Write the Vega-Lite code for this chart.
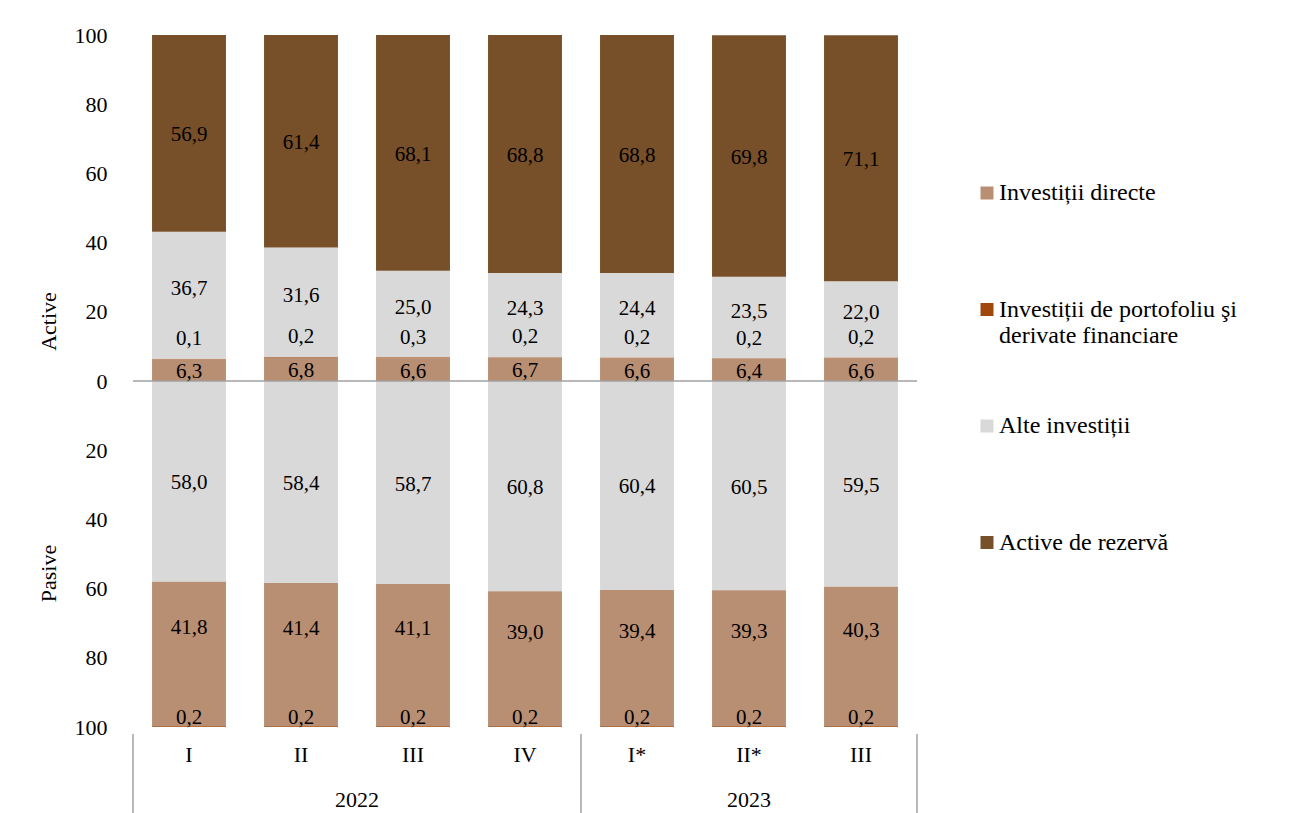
{
  "$schema": "https://vega.github.io/schema/vega-lite/v6.json",
  "autosize": {"type": "none"},
  "width": 784,
  "height": 692,
  "padding": {"left": 133, "top": 35, "right": 379, "bottom": 86},
  "background": "white",
  "config": {
    "view": {"stroke": null},
    "font": "Liberation Serif",
    "text": {"font": "Liberation Serif"},
    "axis": {"labelFont": "Liberation Serif", "titleFont": "Liberation Serif", "labelColor": "#000", "titleColor": "#000"},
    "legend": {"labelFont": "Liberation Serif", "labelColor": "#000"}
  },
  "datasets": {
    "bars": [
      {"q": "2022 I", "s": "Investiții directe", "v": 6.3, "o": 1},
      {"q": "2022 I", "s": "Investiții de portofoliu şi derivate financiare", "v": 0.1, "o": 2},
      {"q": "2022 I", "s": "Alte investiții", "v": 36.7, "o": 3},
      {"q": "2022 I", "s": "Active de rezervă", "v": 56.9, "o": 4},
      {"q": "2022 I", "s": "Alte investiții", "v": -58.0, "o": 1},
      {"q": "2022 I", "s": "Investiții directe", "v": -41.8, "o": 2},
      {"q": "2022 I", "s": "Investiții de portofoliu şi derivate financiare", "v": -0.2, "o": 3},

      {"q": "2022 II", "s": "Investiții directe", "v": 6.8, "o": 1},
      {"q": "2022 II", "s": "Investiții de portofoliu şi derivate financiare", "v": 0.2, "o": 2},
      {"q": "2022 II", "s": "Alte investiții", "v": 31.6, "o": 3},
      {"q": "2022 II", "s": "Active de rezervă", "v": 61.4, "o": 4},
      {"q": "2022 II", "s": "Alte investiții", "v": -58.4, "o": 1},
      {"q": "2022 II", "s": "Investiții directe", "v": -41.4, "o": 2},
      {"q": "2022 II", "s": "Investiții de portofoliu şi derivate financiare", "v": -0.2, "o": 3},

      {"q": "2022 III", "s": "Investiții directe", "v": 6.6, "o": 1},
      {"q": "2022 III", "s": "Investiții de portofoliu şi derivate financiare", "v": 0.3, "o": 2},
      {"q": "2022 III", "s": "Alte investiții", "v": 25.0, "o": 3},
      {"q": "2022 III", "s": "Active de rezervă", "v": 68.1, "o": 4},
      {"q": "2022 III", "s": "Alte investiții", "v": -58.7, "o": 1},
      {"q": "2022 III", "s": "Investiții directe", "v": -41.1, "o": 2},
      {"q": "2022 III", "s": "Investiții de portofoliu şi derivate financiare", "v": -0.2, "o": 3},

      {"q": "2022 IV", "s": "Investiții directe", "v": 6.7, "o": 1},
      {"q": "2022 IV", "s": "Investiții de portofoliu şi derivate financiare", "v": 0.2, "o": 2},
      {"q": "2022 IV", "s": "Alte investiții", "v": 24.3, "o": 3},
      {"q": "2022 IV", "s": "Active de rezervă", "v": 68.8, "o": 4},
      {"q": "2022 IV", "s": "Alte investiții", "v": -60.8, "o": 1},
      {"q": "2022 IV", "s": "Investiții directe", "v": -39.0, "o": 2},
      {"q": "2022 IV", "s": "Investiții de portofoliu şi derivate financiare", "v": -0.2, "o": 3},

      {"q": "2023 I*", "s": "Investiții directe", "v": 6.6, "o": 1},
      {"q": "2023 I*", "s": "Investiții de portofoliu şi derivate financiare", "v": 0.2, "o": 2},
      {"q": "2023 I*", "s": "Alte investiții", "v": 24.4, "o": 3},
      {"q": "2023 I*", "s": "Active de rezervă", "v": 68.8, "o": 4},
      {"q": "2023 I*", "s": "Alte investiții", "v": -60.4, "o": 1},
      {"q": "2023 I*", "s": "Investiții directe", "v": -39.4, "o": 2},
      {"q": "2023 I*", "s": "Investiții de portofoliu şi derivate financiare", "v": -0.2, "o": 3},

      {"q": "2023 II*", "s": "Investiții directe", "v": 6.4, "o": 1},
      {"q": "2023 II*", "s": "Investiții de portofoliu şi derivate financiare", "v": 0.2, "o": 2},
      {"q": "2023 II*", "s": "Alte investiții", "v": 23.5, "o": 3},
      {"q": "2023 II*", "s": "Active de rezervă", "v": 69.8, "o": 4},
      {"q": "2023 II*", "s": "Alte investiții", "v": -60.5, "o": 1},
      {"q": "2023 II*", "s": "Investiții directe", "v": -39.3, "o": 2},
      {"q": "2023 II*", "s": "Investiții de portofoliu şi derivate financiare", "v": -0.2, "o": 3},

      {"q": "2023 III", "s": "Investiții directe", "v": 6.6, "o": 1},
      {"q": "2023 III", "s": "Investiții de portofoliu şi derivate financiare", "v": 0.2, "o": 2},
      {"q": "2023 III", "s": "Alte investiții", "v": 22.0, "o": 3},
      {"q": "2023 III", "s": "Active de rezervă", "v": 71.1, "o": 4},
      {"q": "2023 III", "s": "Alte investiții", "v": -59.5, "o": 1},
      {"q": "2023 III", "s": "Investiții directe", "v": -40.3, "o": 2},
      {"q": "2023 III", "s": "Investiții de portofoliu şi derivate financiare", "v": -0.2, "o": 3}
    ],
    "years": [
      {"q": "2022 II", "year": "2022"},
      {"q": "2023 II*", "year": "2023"}
    ],
    "seps": [
      {"q": "2022 I", "edge": "start"},
      {"q": "2023 I*", "edge": "start"},
      {"q": "2023 III", "edge": "end"}
    ]
  },
  "layer": [
    {
      "data": {"name": "bars"},
      "mark": {"type": "bar", "width": {"band": 0.66}},
      "encoding": {
        "x": {
          "field": "q", "type": "nominal",
          "scale": {"domain": ["2022 I", "2022 II", "2022 III", "2022 IV", "2023 I*", "2023 II*", "2023 III"], "paddingInner": 0, "paddingOuter": 0},
          "axis": {"title": null, "labelExpr": "split(datum.label, ' ')[1]", "domain": false, "ticks": false, "tickSize": 0, "labelPadding": 17, "labelFontSize": 22, "labelAngle": 0}
        },
        "y": {
          "field": "v", "type": "quantitative", "stack": "zero",
          "scale": {"domain": [-100, 100], "nice": false, "zero": false},
          "axis": {
            "title": "Active", "values": [-100, -80, -60, -40, -20, 0, 20, 40, 60, 80, 100],
            "labelExpr": "'' + abs(datum.value)", "domain": false, "ticks": false, "tickSize": 0, "grid": false,
            "labelPadding": 26, "labelFontSize": 22,
            "titleX": -85, "titleY": 286, "titleAngle": -90, "titleBaseline": "middle", "titleAlign": "center",
            "titleFontWeight": "normal", "titleFontSize": 22
          }
        },
        "color": {
          "field": "s", "type": "nominal",
          "scale": {
            "domain": ["Investiții directe", "Investiții de portofoliu şi derivate financiare", "Alte investiții", "Active de rezervă"],
            "range": ["#B98F73", "#9E480E", "#D9D9D9", "#774F28"]
          },
          "legend": {
            "title": null, "orient": "none", "legendX": 842, "legendY": 146, "padding": 0,
            "symbolType": "square", "symbolSize": 169, "symbolStrokeWidth": 0,
            "labelFontSize": 24, "labelOffset": 0, "rowPadding": 66.5, "labelLimit": 400,
            "labelExpr": "datum.label == 'Investiții de portofoliu şi derivate financiare' ? ['Investiții de portofoliu şi', 'derivate financiare'] : [datum.label, '']"
          }
        },
        "order": {"field": "o", "type": "quantitative"}
      }
    },
    {
      "data": {"values": [{}]},
      "mark": {"type": "rule", "color": "#A0A0A0", "strokeWidth": 1.5},
      "encoding": {"y": {"datum": 0, "axis": null}}
    },
    {
      "data": {"name": "bars"},
      "mark": {
        "type": "text", "fontSize": 21, "color": "#000", "baseline": "middle",
        "dy": {"expr": "datum.v > 0 ? (datum.o === 2 ? -20 : (datum.o === 3 ? -6 : 2)) : (datum.o === 2 ? -26 : (datum.o === 3 ? -9 : 2))"}
      },
      "encoding": {
        "x": {"field": "q", "type": "nominal"},
        "y": {
          "field": "v", "type": "quantitative", "stack": "zero", "bandPosition": 0.5,
          "axis": {
            "title": "Pasive", "orient": "left", "labels": false, "ticks": false, "domain": false, "grid": false,
            "titleX": -85, "titleY": 538, "titleAngle": -90, "titleBaseline": "middle", "titleAlign": "center",
            "titleFontWeight": "normal", "titleFontSize": 22
          }
        },
        "detail": {"field": "s"},
        "order": {"field": "o", "type": "quantitative"},
        "text": {"value": {"expr": "replace(format(abs(datum.v), '.1f'), '.', ',')"}}
      }
    },
    {
      "data": {"name": "seps"},
      "transform": [{"filter": "datum.edge === 'start'"}],
      "mark": {"type": "rule", "color": "#A0A0A0", "strokeWidth": 1.5},
      "encoding": {
        "x": {"field": "q", "type": "nominal", "bandPosition": 0},
        "y": {"datum": -102, "axis": null},
        "y2": {"datum": -125.5}
      }
    },
    {
      "data": {"name": "seps"},
      "transform": [{"filter": "datum.edge === 'end'"}],
      "mark": {"type": "rule", "color": "#A0A0A0", "strokeWidth": 1.5},
      "encoding": {
        "x": {"field": "q", "type": "nominal", "bandPosition": 1},
        "y": {"datum": -102, "axis": null},
        "y2": {"datum": -125.5}
      }
    },
    {
      "data": {"name": "years"},
      "transform": [{"filter": "datum.year === '2022'"}],
      "mark": {"type": "text", "fontSize": 22, "color": "#000", "baseline": "middle"},
      "encoding": {
        "x": {"field": "q", "type": "nominal", "bandPosition": 1},
        "y": {"datum": -121, "axis": null},
        "text": {"field": "year"}
      }
    },
    {
      "data": {"name": "years"},
      "transform": [{"filter": "datum.year === '2023'"}],
      "mark": {"type": "text", "fontSize": 22, "color": "#000", "baseline": "middle"},
      "encoding": {
        "x": {"field": "q", "type": "nominal", "bandPosition": 0.5},
        "y": {"datum": -121, "axis": null},
        "text": {"field": "year"}
      }
    }
  ],
  "resolve": {"axis": {"y": "independent"}}
}
